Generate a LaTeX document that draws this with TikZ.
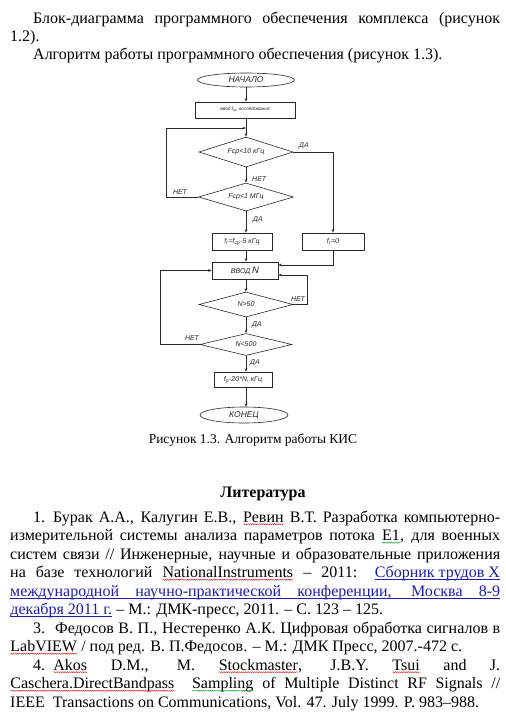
\documentclass[tikz,border=0pt]{standalone}
\usepackage{fontspec}
\setmainfont{Liberation Serif}
\newfontfamily\arialf{Liberation Sans}
\usetikzlibrary{shapes.geometric,arrows.meta,decorations.pathmorphing}
\definecolor{linkc}{RGB}{30,30,170}
\definecolor{sqred}{RGB}{225,40,40}
\definecolor{sqgreen}{RGB}{40,160,60}
\definecolor{lnc}{RGB}{40,40,40}
\newcommand\sqw[2][sqred]{\tikz[baseline=(sqw.base)]{\node[inner sep=0pt,outer sep=0pt,anchor=base](sqw){#2};\draw[#1,line width=0.45pt,decorate,decoration={snake,amplitude=0.6pt,segment length=2.2pt}]([yshift=-2.2pt]sqw.base west)--([yshift=-2.2pt]sqw.base east);}}
\newcommand\lnk[1]{\tikz[baseline=(lk.base)]{\node[inner sep=0pt,outer sep=0pt,anchor=base,text=linkc](lk){#1};\draw[linkc,line width=0.6pt]([yshift=-1.8pt]lk.base west)--([yshift=-1.8pt]lk.base east);}}
\begin{document}
\begin{tikzpicture}[x=1pt,y=-1pt,
  txt/.style={anchor=base west,inner sep=0pt,font=\fontsize{16}{18}\selectfont},
  fc/.style={font=\arialf\itshape\fontsize{7}{8}\selectfont,text=lnc},
  boxn/.style={fc,draw=lnc,line width=0.6pt,rectangle,inner sep=0pt},
  dia/.style={fc,draw=lnc,line width=0.6pt,diamond,aspect=3,inner sep=0pt},
  ell/.style={fc,draw=lnc,line width=0.6pt,ellipse,inner sep=0pt,font=\arialf\itshape\fontsize{8.5}{9}\selectfont},
  lab/.style={fc,inner sep=0pt},
  conn/.style={draw=lnc,line width=0.6pt,-{Stealth[length=3.5pt,width=2.6pt]}},
  plain/.style={draw=lnc,line width=0.6pt}]
\useasboundingbox[fill=white] (0,0) rectangle (506,716);

% top text
\node[txt] (p1) at (33,23) {\makebox[467pt][s]{Блок-диаграмма программного обеспечения комплекса (рисунок}};
\node[txt] (p2) at (10,41) {1.2).};
\node[txt] (p3) at (33,59) {Алгоритм работы программного обеспечения (рисунок 1.3).};

% flowchart nodes
\node[ell,minimum width=97pt,minimum height=14pt] (start) at (246,80) {НАЧАЛО};
\node[boxn,minimum width=100pt,minimum height=16pt,font=\arialf\itshape\fontsize{4.8}{5}\selectfont] (b1) at (245,110) {ввод f\textsubscript{гр} исследования};
\node[dia,minimum width=94pt,minimum height=30pt] (d1) at (246,152) {Fср<10 кГц};
\node[dia,minimum width=95pt,minimum height=28pt] (d2) at (246,197) {Fср<1 МГц};
\node[boxn,minimum width=60pt,minimum height=17pt] (fr) at (242,241.5) {f\textsubscript{r}=f\textsubscript{ср}-5 кГц};
\node[boxn,minimum width=62pt,minimum height=17pt] (fz) at (333,241.5) {f\textsubscript{r}=0};
\node[boxn,minimum width=66pt,minimum height=17pt] (vn) at (245,270.5) {ВВОД {\fontsize{9.5}{9}\selectfont N}};
\node[dia,minimum width=94pt,minimum height=25pt] (d3) at (246,304.5) {N>50};
\node[dia,minimum width=92pt,minimum height=22pt] (d4) at (246,344.5) {N<500};
\node[boxn,minimum width=58pt,minimum height=15pt] (fp) at (243,379.5) {f\textsubscript{р}-20*N, кГц};
\node[ell,minimum width=88pt,minimum height=16pt] (end) at (244,415) {КОНЕЦ};

\coordinate (j1) at (246,128);

% connectors
\draw[conn] (start.south) -- (start.south |- b1.north);
\draw[conn] (b1.south -| d1.north) -- (d1.north);
\draw[conn] (d2.west) -- ++(-32,0) |- (j1);
\draw[conn] (d1.south) -- (d2.north);
\draw[conn] (d1.east) -| (fz.north);
\draw[conn] (d2.south) -- (d2.south |- fr.north);
\draw[conn] (fr.south -| d2.south) -- (d2.south |- vn.north);
\draw[conn] (fz.south) |- ([yshift=5.5pt]vn.east);
\draw[conn] (vn.south -| d3.north) -- (d3.north);
\draw[conn] (d3.east) -- ++(14,0) |- ([yshift=-4.5pt]vn.east);
\draw[conn] (d3.south) -- (d4.north);
\draw[conn] (d4.west) -- ++(-39,0) |- (vn.west);
\draw[conn] (d4.south) -- (d4.south |- fp.north);
\draw[conn] (fp.south -| d4.south) -- (d4.south |- end.north);

% labels
\node[lab] (l1) at (304,146) {ДА};
\node[lab,anchor=west] (l2) at (252,179) {НЕТ};
\node[lab] (l3) at (180,192) {НЕТ};
\node[lab] (l4) at (258,220) {ДА};
\node[lab] (l5) at (298,299) {НЕТ};
\node[lab] (l6) at (257,325) {ДА};
\node[lab] (l7) at (192,338) {НЕТ};
\node[lab] (l8) at (255,363) {ДА};

% caption
\node[anchor=base,inner sep=0pt,font=\fontsize{13.5}{16}\selectfont] (cap) at (253,443) {Рисунок 1.3. Алгоритм работы КИС};

% references
\node[txt,anchor=base,font=\fontsize{16}{18}\selectfont\bfseries] (lit) at (263,497) {Литература};
\node[txt] (r1) at (33,522) {\makebox[467pt][s]{\makebox[20pt][l]{1.}Бурак А.А., Калугин Е.В., \sqw{Ревин} В.Т. Разработка компьютерно-}};
\node[txt] (r2) at (10,540.5) {\makebox[490pt][s]{измерительной системы анализа параметров потока \sqw[sqgreen]{E1}, для военных}};
\node[txt] (r3) at (10,559) {\makebox[490pt][s]{систем связи // Инженерные, научные и образовательные приложения}};
\node[txt] (r4) at (10,577.5) {\makebox[490pt][s]{на базе технологий \sqw{NationalInstruments} – 2011: \lnk{Сборник трудов X}}};
\node[txt,text=linkc] (r5) at (10,596) {\makebox[490pt][s]{международной научно-практической конференции, Москва 8-9}};
\draw[linkc,line width=0.6pt] ([yshift=-1.8pt]r5.base west) -- ([yshift=-1.8pt]r5.base east);
\node[txt] (r6) at (10,614.5) {\lnk{декабря 2011 г.} – М.: ДМК-пресс, 2011. – С. 123 – 125.};
\node[txt] (r7) at (33,633) {\makebox[467pt][s]{\makebox[22pt][l]{3.}Федосов В. П., Нестеренко А.К. Цифровая обработка сигналов в}};
\node[txt] (r8) at (10,651.5) {\sqw{LabVIEW} / под ред. В. П.Федосов. – М.: ДМК Пресс, 2007.-472 с.};
\node[txt] (r9) at (33,670) {\makebox[467pt][s]{\makebox[20pt][l]{4.}\sqw{Akos} D.M., M. \sqw{Stockmaster}, J.B.Y. \sqw{Tsui} and J.}};
\node[txt] (r10) at (10,688.5) {\makebox[490pt][s]{\sqw{Caschera.DirectBandpass}\ \ \sqw[sqgreen]{Sampling} of Multiple Distinct RF Signals //}};
\node[txt] (r11) at (10,707) {IEEE\ \ Transactions on Communications, Vol. 47. July 1999. P. 983–988.};
\end{tikzpicture}
\end{document}
